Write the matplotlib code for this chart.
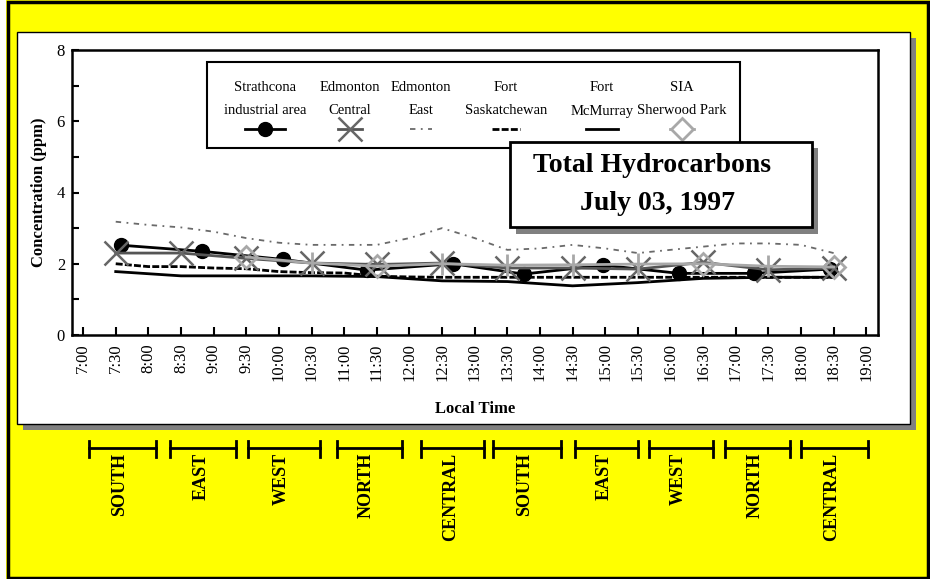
import matplotlib
matplotlib.use('Agg')
import matplotlib.pyplot as plt
from matplotlib.patches import Rectangle
from matplotlib.lines import Line2D
from matplotlib.transforms import blended_transform_factory

plt.rcParams['font.family'] = ['Liberation Serif', 'DejaVu Serif']


def hrs(t):
    h, m = t.split(':')
    return int(h) + int(m) / 60.0


# Strathcona industrial area - mobile lab, one sample per zone
strath_times = ['7:35', '8:49', '10:04', '11:21', '12:40', '13:45', '14:58', '16:08', '17:17', '18:27']
strath_ppm = [2.52, 2.35, 2.12, 1.82, 2.00, 1.71, 1.96, 1.73, 1.73, 1.85]

# hourly stations (reported on the half hour)
half_hours = ['7:30', '8:30', '9:30', '10:30', '11:30', '12:30', '13:30', '14:30',
              '15:30', '16:30', '17:30', '18:30']
central_ppm = [2.30, 2.30, 2.15, 2.02, 1.98, 2.02, 1.88, 1.88, 1.85, 2.04, 1.83, 1.88]
mcmurray_ppm = [1.78, 1.66, 1.66, 1.66, 1.64, 1.52, 1.50, 1.38, 1.47, 1.59, 1.62, 1.62]

# 30 minute stations
half_steps = ['7:30', '8:00', '8:30', '9:00', '9:30', '10:00', '10:30', '11:00', '11:30',
              '12:00', '12:30', '13:00', '13:30', '14:00', '14:30', '15:00', '15:30',
              '16:00', '16:30', '17:00', '17:30', '18:00', '18:30']
east_ppm = [3.18, 3.09, 3.02, 2.90, 2.72, 2.59, 2.53, 2.53, 2.53, 2.72, 3.00, 2.72,
            2.39, 2.43, 2.53, 2.43, 2.30, 2.39, 2.48, 2.57, 2.57, 2.53, 2.30]
fortsask_ppm = [2.00, 1.92, 1.92, 1.88, 1.86, 1.78, 1.75, 1.74, 1.65, 1.63, 1.62, 1.62,
                1.62, 1.62, 1.62, 1.62, 1.62, 1.62, 1.62, 1.62, 1.62, 1.62, 1.62]

# SIA Sherwood Park
sia_times = ['9:30', '10:30', '11:30', '12:30', '13:30', '14:30', '15:30', '16:30', '17:30', '18:30']
sia_ppm = [2.19, 2.02, 1.93, 2.00, 1.96, 1.97, 1.99, 2.00, 1.93, 1.91]
sia_diamonds = [0, 2, 7, 9]

# mobile lab route
zones = ['SOUTH', 'EAST', 'WEST', 'NORTH', 'CENTRAL', 'SOUTH', 'EAST', 'WEST', 'NORTH', 'CENTRAL']
zone_start = ['7:05', '8:20', '9:32', '10:53', '12:11', '13:17', '14:32', '15:40', '16:50', '18:00']
zone_end = ['8:07', '9:21', '10:38', '11:53', '13:09', '14:19', '15:30', '16:39', '17:50', '19:02']

tick_labels = ['7:00', '7:30', '8:00', '8:30', '9:00', '9:30', '10:00', '10:30', '11:00',
               '11:30', '12:00', '12:30', '13:00', '13:30', '14:00', '14:30', '15:00',
               '15:30', '16:00', '16:30', '17:00', '17:30', '18:00', '18:30', '19:00']

W, H = 930, 579
fig = plt.figure(figsize=(W / 100, H / 100), dpi=100, facecolor='#ffff00')


def fx(x):
    return x / W


def fy(y):
    return 1 - y / H


def box(x0, y0, x1, y1, **kw):
    r = Rectangle((fx(x0), fy(y1)), fx(x1) - fx(x0), fy(y0) - fy(y1),
                  transform=fig.transFigure, **kw)
    fig.add_artist(r)
    return r


# outer frame, white panel with drop shadow
box(0, 0, 6, H, facecolor='white', edgecolor='none', zorder=-3)
box(8, 1.5, 928, 577.5, facecolor='none', edgecolor='black', lw=2.5, zorder=5)
box(23, 38, 916, 430, facecolor='#808080', edgecolor='none', zorder=-2)
box(17, 32, 910, 424, facecolor='white', edgecolor='black', lw=1, zorder=-1)

ax = fig.add_axes([fx(72), fy(335), fx(878) - fx(72), fy(50) - fy(335)])
ax.patch.set_alpha(0)

east_style = dict(color='#6a6a6a', lw=1.3, linestyle=(0, (3, 3, 1, 3)))
fortsask_style = dict(color='black', lw=2, linestyle=(0, (2.5, 0.8)))
central_style = dict(color='#555555', lw=2, marker='x', markersize=17,
                     markeredgewidth=1.8, markeredgecolor='#666666')

ax.plot([hrs(t) for t in half_steps], east_ppm, **east_style)
ax.plot([hrs(t) for t in half_steps], fortsask_ppm, **fortsask_style)
ax.plot([hrs(t) for t in half_hours], mcmurray_ppm, color='black', lw=2)
ax.plot([hrs(t) for t in strath_times], strath_ppm, color='black', lw=2,
        marker='o', markersize=10)
ax.plot([hrs(t) for t in half_hours], central_ppm, **central_style)
sia_x = [hrs(t) for t in sia_times]
ax.plot(sia_x, sia_ppm, color='#a8a8a8', lw=2)
ax.plot([sia_x[i] for i in range(len(sia_x)) if i not in sia_diamonds],
        [sia_ppm[i] for i in range(len(sia_x)) if i not in sia_diamonds],
        linestyle='none', marker='|', markersize=16, markeredgewidth=2, color='#a8a8a8')
ax.plot([sia_x[i] for i in sia_diamonds], [sia_ppm[i] for i in sia_diamonds],
        linestyle='none', marker='D', markersize=11, markerfacecolor='none',
        markeredgewidth=2, markeredgecolor='#a8a8a8')

ax.set_xlim(6.83, 19.18)
ax.set_ylim(0, 8)
ax.set_xticks([hrs(t) for t in tick_labels])
ax.set_xticklabels(tick_labels, rotation=90, fontsize=12)
ax.set_yticks([0, 2, 4, 6, 8])
ax.set_yticks([1, 3, 5, 7], minor=True)
ax.tick_params(axis='both', which='both', direction='in', width=1.5, labelsize=12)
ax.tick_params(axis='x', length=6, pad=6)
ax.tick_params(axis='y', which='both', length=5, pad=5)
for s in ax.spines.values():
    s.set_linewidth(1.8)
ax.set_xlabel('Local Time', fontsize=12, fontweight='bold', labelpad=14)
ax.set_ylabel('Concentration (ppm)', fontsize=12, fontweight='bold', labelpad=7)

# legend box: station name above its line sample
box(207, 62, 740, 148, facecolor='white', edgecolor='black', lw=1.5, zorder=3)
legend_cols = [
    (265, 'Strathcona', 'industrial area', dict(color='black', lw=2, marker='o', markersize=10), 20),
    (350, 'Edmonton', 'Central', central_style, 12),
    (421, 'Edmonton', 'East', east_style, 11),
    (506, 'Fort', 'Saskatchewan', fortsask_style, 14),
    (602, 'Fort', 'McMurray', dict(color='black', lw=2), 16),
    (682, 'SIA', 'Sherwood Park', dict(color='#a8a8a8', lw=2, marker='D', markersize=11,
                                      markerfacecolor='white', markeredgewidth=2), 12),
]
for cx, l1, l2, style, half in legend_cols:
    fig.text(fx(cx), fy(88), l1, ha='center', va='center', fontsize=10.5, zorder=4)
    fig.text(fx(cx), fy(111), l2, ha='center', va='center', fontsize=10.5, zorder=4)
    ln = Line2D([fx(cx - half), fx(cx), fx(cx + half)], [fy(129)] * 3,
                markevery=[1], transform=fig.transFigure, zorder=4, **style)
    fig.add_artist(ln)

# title box
box(516, 148, 818, 234, facecolor='#808080', edgecolor='none', zorder=5)
box(510, 142, 812, 227, facecolor='white', edgecolor='black', lw=2, zorder=6)
fig.text(fx(652), fy(166), 'Total Hydrocarbons', ha='center', va='center',
         fontsize=20, fontweight='bold', zorder=7)
fig.text(fx(657), fy(204), 'July 03, 1997', ha='center', va='center',
         fontsize=20, fontweight='bold', zorder=7)

# mobile lab zones below the chart
tr = blended_transform_factory(ax.transData, fig.transFigure)
for name, a, b in zip(zones, zone_start, zone_end):
    x0, x1 = hrs(a), hrs(b)
    ax.plot([x0, x1], [fy(448), fy(448)], color='black', lw=2, transform=tr, clip_on=False)
    for xe in (x0, x1):
        ax.plot([xe, xe], [fy(441), fy(457)], color='black', lw=2, transform=tr, clip_on=False)
    ax.text((x0 + x1) / 2 - 0.04, fy(453), name, rotation=90, ha='center', va='top',
            fontsize=13, fontweight='bold', transform=tr)

fig.savefig('out.png', dpi=100, facecolor=fig.get_facecolor())
